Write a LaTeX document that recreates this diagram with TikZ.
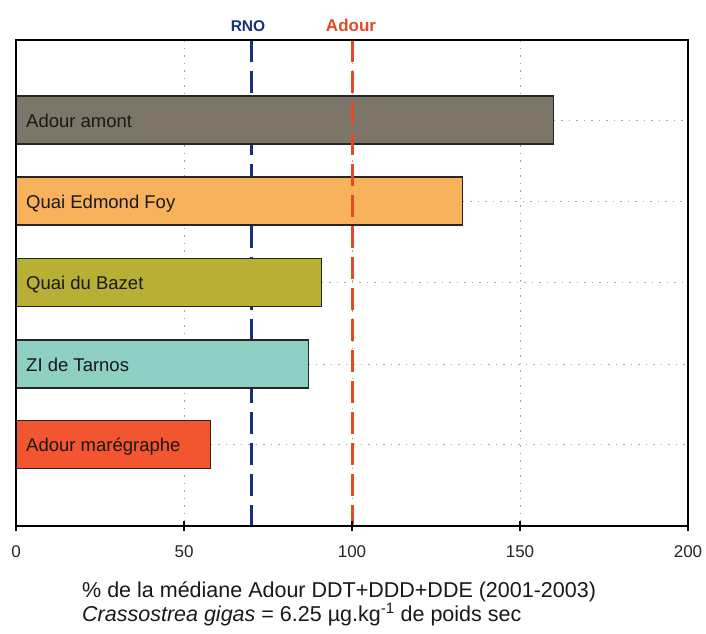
\documentclass[tikz,border=0pt]{standalone}
\usepackage{fontspec}
\setmainfont{Liberation Sans}
\definecolor{cAmont}{HTML}{7D7568}
\definecolor{cFoy}{HTML}{F8B25C}
\definecolor{cBazet}{HTML}{B8B035}
\definecolor{cTarnos}{HTML}{8ED0C4}
\definecolor{cMareg}{HTML}{F2552F}
\definecolor{cRNO}{HTML}{17307C}
\definecolor{cAdour}{HTML}{E24A26}
\begin{document}
\begin{tikzpicture}[x=1pt,y=-1pt,
  frame/.style={draw=black,line width=1.4pt},
  barbox/.style={draw=black!85,line width=1.1pt},
  gridline/.style={draw=black!35,line width=0.9pt,dash pattern=on 1.5pt off 6pt},
  refline/.style={line width=3pt,dash pattern=on 22pt off 9pt},
  barlabel/.style={anchor=base west,inner sep=0pt,text=black!90,font=\fontsize{18.5}{22}\selectfont},
  ticklabel/.style={anchor=base,inner sep=0pt,text=black!85,font=\fontsize{17}{20}\selectfont},
  reflabel/.style={anchor=base,inner sep=0pt},
  captext/.style={anchor=base west,inner sep=0pt,text=black!90,font=\fontsize{21.5}{25}\selectfont},
]
% page and plot geometry: value v sits at x = 16 + 3.36 v
\path[fill=white] (0,0) rectangle (706,633);
\useasboundingbox (0,0) rectangle (706,633);
\def\xl{16}\def\xr{688}\def\yt{40}\def\yb{526}

% vertical grid lines
\foreach \v in {50,100,150}
  \draw[gridline] ({16+3.36*\v},\yt) -- ({16+3.36*\v},\yb);

% RNO reference line, behind the bars
\draw[refline,cRNO] ({16+3.36*70},\yt) -- ({16+3.36*70},\yb);

% bars with their dotted guide lines
\foreach \v/\yc/\lab/\col in {160/120/Adour amont/cAmont,
                               133/201/Quai Edmond Foy/cFoy,
                               91/282.5/Quai du Bazet/cBazet,
                               87/364/ZI de Tarnos/cTarnos,
                               58/444.5/Adour marégraphe/cMareg}{
  \draw[gridline] ({16+3.36*\v},\yc) -- (\xr,\yc);
  \path[barbox,fill=\col] (\xl,{\yc-24}) rectangle ({16+3.36*\v},{\yc+24});
  \node[barlabel] at (26,{\yc+7}) {\lab};
}

% Adour reference line, over the bars
\draw[refline,cAdour] ({16+3.36*100},\yt) -- ({16+3.36*100},\yb);

% plot frame and ticks
\draw[frame] (\xl,\yt) rectangle (\xr,\yb);
\foreach \v in {0,50,100,150,200}{
  \draw[black,line width=1.2pt] ({16+3.36*\v},{\yb-5}) -- ({16+3.36*\v},{\yb+5});
  \node[ticklabel] (t\v) at ({16+3.36*\v},557) {\v};
}

% reference labels
\node[reflabel,text=cRNO,font=\bfseries\fontsize{15.5}{18}\selectfont] (lRNO) at (248,31) {RNO};
\node[reflabel,text=cAdour,font=\bfseries\fontsize{17}{20}\selectfont] (lAdour) at (351,31) {Adour};

% axis caption
\node[captext] (cap1) at (82,597) {\% de la médiane Adour DDT+DDD+DDE (2001-2003)};
\node[captext] (cap2) at (82,621) {\textit{Crassostrea gigas} = 6.25 µg.kg\textsuperscript{-1} de poids sec};
\end{tikzpicture}
\end{document}
